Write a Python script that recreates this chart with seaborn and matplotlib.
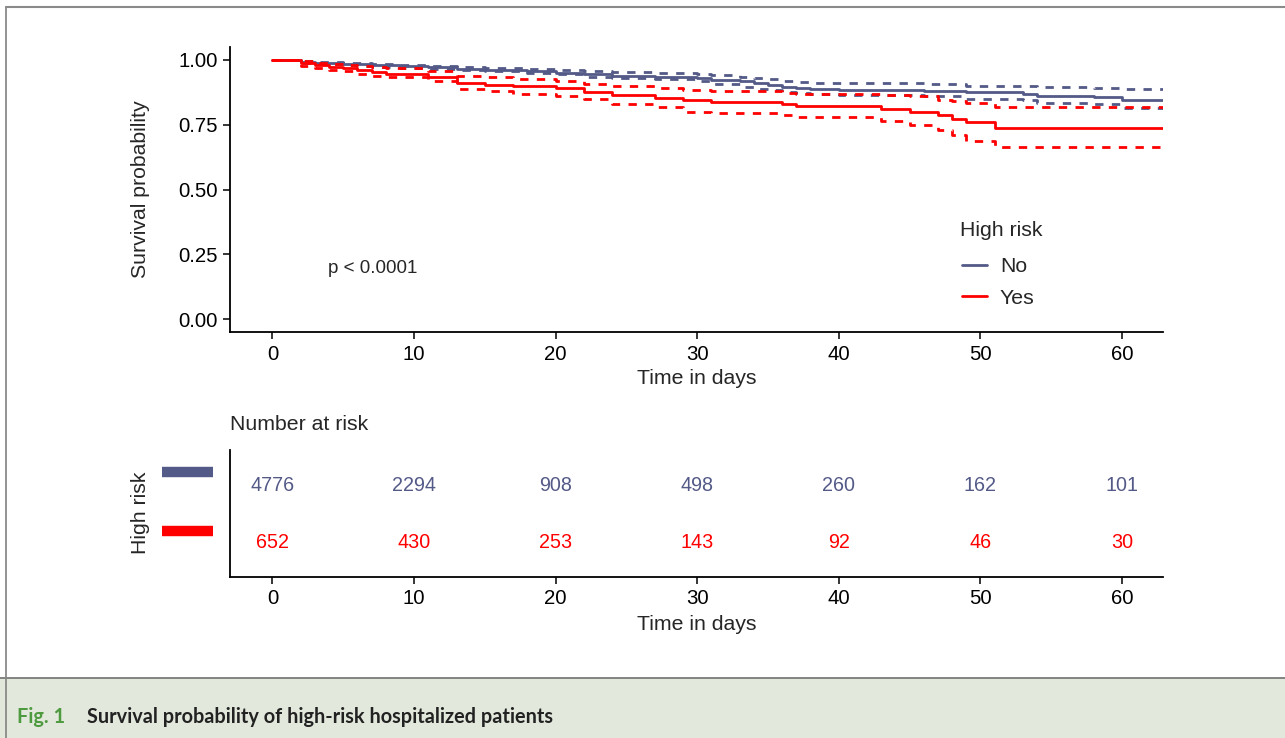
import pandas as pd
import numpy as np
import matplotlib
matplotlib.use("Agg")
import matplotlib.pyplot as plt
import matplotlib.transforms as mtransforms
from matplotlib.lines import Line2D
from matplotlib.patches import Rectangle
import seaborn as sns

# =====================================================
# DATOS
# =====================================================

grupos = ["No", "Yes"]
colores = {"No": "#545A88", "Yes": "#FF0000"}

t_no = [0, 2, 3, 5, 6, 7, 9, 11, 13, 15, 18, 20, 22, 24, 27, 30, 31, 33, 34,
        35, 36, 37, 38, 40, 46, 49, 53, 54, 58, 60, 62.9]
s_no = [1.0, 0.992, 0.989, 0.986, 0.983, 0.979, 0.976, 0.971, 0.967, 0.962,
        0.958, 0.951, 0.945, 0.939, 0.936, 0.932, 0.924, 0.917, 0.910, 0.904,
        0.897, 0.891, 0.887, 0.884, 0.880, 0.876, 0.869, 0.862, 0.856, 0.847,
        0.847]
up_no = [1.0, 0.995, 0.993, 0.990, 0.988, 0.984, 0.982, 0.977, 0.974, 0.970,
         0.965, 0.960, 0.956, 0.953, 0.951, 0.946, 0.941, 0.934, 0.930, 0.926,
         0.920, 0.914, 0.910, 0.910, 0.908, 0.901, 0.898, 0.895, 0.893, 0.888,
         0.888]
lo_no = [1.0, 0.989, 0.985, 0.982, 0.978, 0.974, 0.970, 0.965, 0.960, 0.956,
         0.950, 0.944, 0.936, 0.930, 0.926, 0.917, 0.906, 0.897, 0.889, 0.885,
         0.878, 0.872, 0.868, 0.864, 0.860, 0.850, 0.845, 0.834, 0.830, 0.814,
         0.814]

t_yes = [0, 2, 3, 4, 5, 6, 7, 8, 11, 13, 15, 17, 20, 22, 24, 27, 29, 31, 36,
         37, 43, 45, 47, 48, 49, 51, 62.9]
s_yes = [1.0, 0.988, 0.982, 0.973, 0.969, 0.960, 0.953, 0.946, 0.936, 0.910,
         0.905, 0.899, 0.890, 0.877, 0.864, 0.854, 0.844, 0.837, 0.829, 0.822,
         0.810, 0.799, 0.786, 0.772, 0.759, 0.738, 0.738]
up_yes = [1.0, 0.996, 0.990, 0.984, 0.980, 0.976, 0.972, 0.968, 0.958, 0.937,
          0.935, 0.928, 0.920, 0.909, 0.900, 0.892, 0.883, 0.881, 0.874, 0.868,
          0.863, 0.859, 0.845, 0.840, 0.833, 0.820, 0.820]
lo_yes = [1.0, 0.978, 0.970, 0.960, 0.956, 0.946, 0.938, 0.933, 0.919, 0.886,
          0.880, 0.870, 0.860, 0.848, 0.831, 0.819, 0.800, 0.797, 0.788, 0.778,
          0.763, 0.750, 0.728, 0.710, 0.688, 0.664, 0.664]

tiempos_riesgo = [0, 10, 20, 30, 40, 50, 60]
riesgo_no = [4776, 2294, 908, 498, 260, 162, 101]
riesgo_yes = [652, 430, 253, 143, 92, 46, 30]

# =====================================================
# DATAFRAME LARGO
# =====================================================

filas = []
for grupo, t, s, up, lo in [("No", t_no, s_no, up_no, lo_no),
                            ("Yes", t_yes, s_yes, up_yes, lo_yes)]:
    for tipo, vals in [("surv", s), ("upper", up), ("lower", lo)]:
        for ti, v in zip(t, vals):
            filas.append({"time": ti, "prob": v, "group": grupo, "kind": tipo})
df = pd.DataFrame(filas)

# =====================================================
# FIGURA
# =====================================================

sns.set_style("ticks")
plt.rcParams["font.family"] = ["Liberation Sans", "DejaVu Sans"]

W, H = 1285, 738
fig = plt.figure(figsize=(W / 100, H / 100), dpi=100)

# marco exterior y pie de figura
fig.patches.append(Rectangle((0, 0), 1, 60 / H, transform=fig.transFigure,
                             facecolor="#E2E9DC", edgecolor="none", zorder=0))
fig.add_artist(Line2D([0, 1], [60 / H, 60 / H], transform=fig.transFigure,
                      color="#7A7A7A", lw=1.3))
fig.add_artist(Line2D([6 / W, 1], [1 - 6.5 / H, 1 - 6.5 / H],
                      transform=fig.transFigure, color="#8A8A8A", lw=1.5))
fig.add_artist(Line2D([6 / W, 6 / W], [0, 1 - 6.5 / H],
                      transform=fig.transFigure, color="#8A8A8A", lw=1.3))
fig.text(17 / W, 1 - 717 / H, "Fig. 1", color="#4E9A3E", fontsize=14.3,
         fontweight="bold", family=["Lato", "DejaVu Sans"], va="center")
fig.text(87 / W, 1 - 717 / H,
         "Survival probability of high-risk hospitalized patients",
         color="#222222", fontsize=14.3, fontweight="bold",
         family=["Lato", "DejaVu Sans"], va="center")

# =====================================================
# CURVA DE SUPERVIVENCIA
# =====================================================

ax = fig.add_axes([230 / W, 1 - 332 / H, 933 / W, 285 / H])

sns.lineplot(
    data=df,
    x="time",
    y="prob",
    hue="group",
    style="kind",
    hue_order=grupos,
    style_order=["surv", "upper", "lower"],
    palette=colores,
    dashes={"surv": "", "upper": (3, 3), "lower": (3, 3)},
    drawstyle="steps-post",
    estimator=None,
    lw=2.0,
    legend=False,
    ax=ax,
)

ax.set_xlim(-3.0, 62.9)
ax.set_ylim(-0.05, 1.05)
ax.set_xticks(tiempos_riesgo)
ax.set_yticks([0, 0.25, 0.5, 0.75, 1.0])
ax.set_yticklabels(["0.00", "0.25", "0.50", "0.75", "1.00"])
ax.tick_params(labelsize=14.7, length=5, width=1.1, colors="black", pad=4)
for s in ["left", "bottom"]:
    ax.spines[s].set_linewidth(1.3)
    ax.spines[s].set_color("black")
sns.despine(ax=ax)
ax.set_xlabel("Time in days", fontsize=15.3)
ax.set_ylabel("Survival probability", fontsize=15.3)
ax.xaxis.set_label_coords(0.5, (332 - 379) / 285)
ax.yaxis.set_label_coords((140 - 230) / 933, 0.5)
ax.xaxis.label.set_va("center")
ax.yaxis.label.set_va("center")

ax.text(3.95, 0.196, "p < 0.0001", fontsize=13.5, va="center", ha="left")

# leyenda: título aparte para controlar el espacio
ax.text((960 - 230) / 933, (332 - 231) / 285, "High risk", fontsize=15.3,
        transform=ax.transAxes, ha="left", va="center")
handles = [Line2D([], [], color=colores[g], lw=2.0) for g in grupos]
leg = ax.legend(handles, grupos, loc="upper left",
                bbox_to_anchor=((953 - 230) / 933, (332 - 249) / 285),
                frameon=False, fontsize=15.3,
                handlelength=1.2, handletextpad=0.6, labelspacing=0.58,
                borderaxespad=0.0)

# =====================================================
# TABLA DE NÚMERO EN RIESGO
# =====================================================

ax2 = fig.add_axes([230 / W, 1 - 577 / H, 933 / W, 127 / H])
ax2.set_xlim(-3.0, 62.9)
ax2.set_ylim(-0.588, 1.605)

for fila, (grupo, valores) in enumerate([("Yes", riesgo_yes), ("No", riesgo_no)]):
    for t, n in zip(tiempos_riesgo, valores):
        ax2.text(t, fila, str(n), ha="center", va="center",
                 fontsize=14.2, color=colores[grupo])

trans = mtransforms.blended_transform_factory(ax2.transAxes, ax2.transData)
for fila, grupo in [(0.206, "Yes"), (1.226, "No")]:
    ax2.plot([(162 - 230) / 933, (213 - 230) / 933], [fila, fila],
             transform=trans, color=colores[grupo], lw=7.5,
             solid_capstyle="butt", clip_on=False)

ax2.set_xticks(tiempos_riesgo)
ax2.set_yticks([])
ax2.tick_params(labelsize=14.7, length=5, width=1.1, colors="black", pad=4)
for s in ["left", "bottom"]:
    ax2.spines[s].set_linewidth(1.3)
    ax2.spines[s].set_color("black")
sns.despine(ax=ax2)
ax2.set_xlabel("Time in days", fontsize=15.3)
ax2.set_ylabel("High risk", fontsize=15.3)
ax2.xaxis.set_label_coords(0.5, (577 - 624) / 127)
ax2.yaxis.set_label_coords((140 - 230) / 933, (577 - 513) / 127)
ax2.xaxis.label.set_va("center")
ax2.yaxis.label.set_va("center")
ax2.text(0.0, (577 - 424) / 127, "Number at risk", transform=ax2.transAxes,
         fontsize=15.3, va="center", ha="left")

fig.savefig("out.png", dpi=100)
